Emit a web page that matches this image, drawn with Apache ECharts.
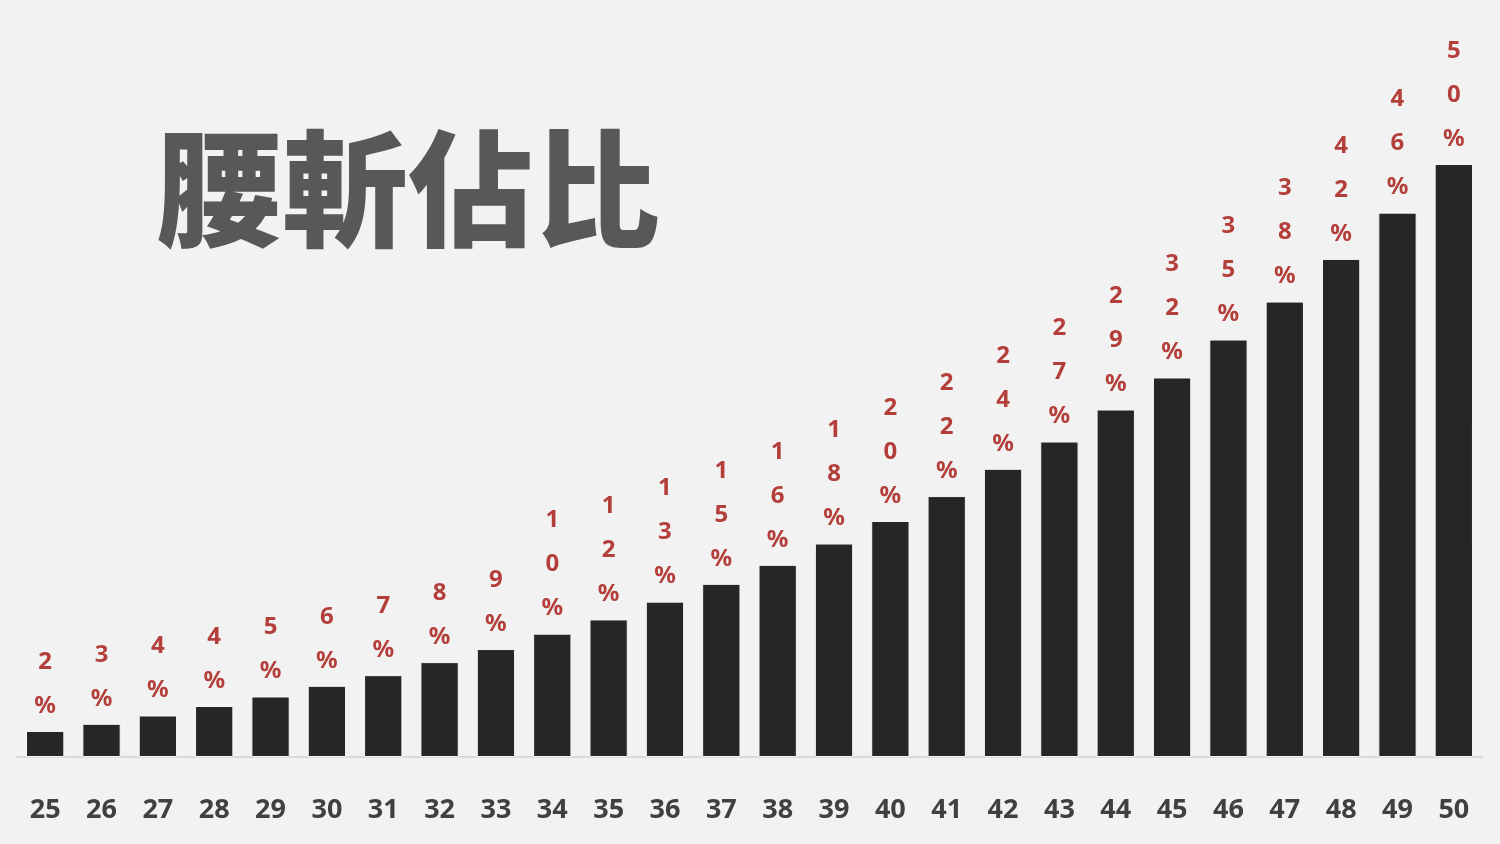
<!DOCTYPE html>
<html><head><meta charset="utf-8">
<script src="https://cdn.jsdelivr.net/npm/echarts@6/dist/echarts.min.js"></script>
<style>html,body{margin:0;padding:0;background:#f2f2f2;}#c{width:1500px;height:844px;}</style>
</head><body><div id="c"></div>
<script>
const categories = ['25','26','27','28','29','30','31','32','33','34','35','36','37','38','39','40','41','42','43','44','45','46','47','48','49','50'];
const values = [2.2,2.8,3.5,4.3,5.1,6.0,6.9,8.0,9.1,10.4,11.6,13.1,14.6,16.2,18.0,19.9,22.0,24.3,26.6,29.3,32.0,35.2,38.4,42.0,45.9,50.0];
const titleText = '腰斬佔比';

const chart = echarts.init(document.getElementById('c'));
chart.setOption({
  backgroundColor: '#f2f2f2',
  animation: false,
  title: {
    text: titleText, left: 151, top: 121,
    textStyle: { fontFamily: 'Noto Sans CJK TC', fontWeight: 900, fontSize: 126, color: '#585858' }
  },
  grid: { left: 17, right: 18, top: 164, bottom: 87 },
  xAxis: {
    type: 'category', data: categories,
    axisLine: { lineStyle: { color: '#d9d9d9', width: 2 } },
    axisTick: { show: false },
    axisLabel: { margin: 40, fontFamily: 'Open Sans', fontWeight: 'bold', fontSize: 27, color: '#404040' }
  },
  yAxis: { type: 'value', min: 0, max: 50, show: false, splitLine: { show: false } },
  series: [{
    type: 'bar', data: values, barWidth: '68%',
    itemStyle: { color: '#262626', borderColor: '#f7f7f7', borderWidth: 1 },
    label: {
      show: true, position: 'top', distance: 3,
      fontFamily: 'Noto Sans', fontWeight: 'bold', fontSize: 24, lineHeight: 44, color: '#b43f3a',
      formatter: p => String(Math.round(p.value) + '%').split('').join('\n')
    }
  }]
});
</script></body></html>
